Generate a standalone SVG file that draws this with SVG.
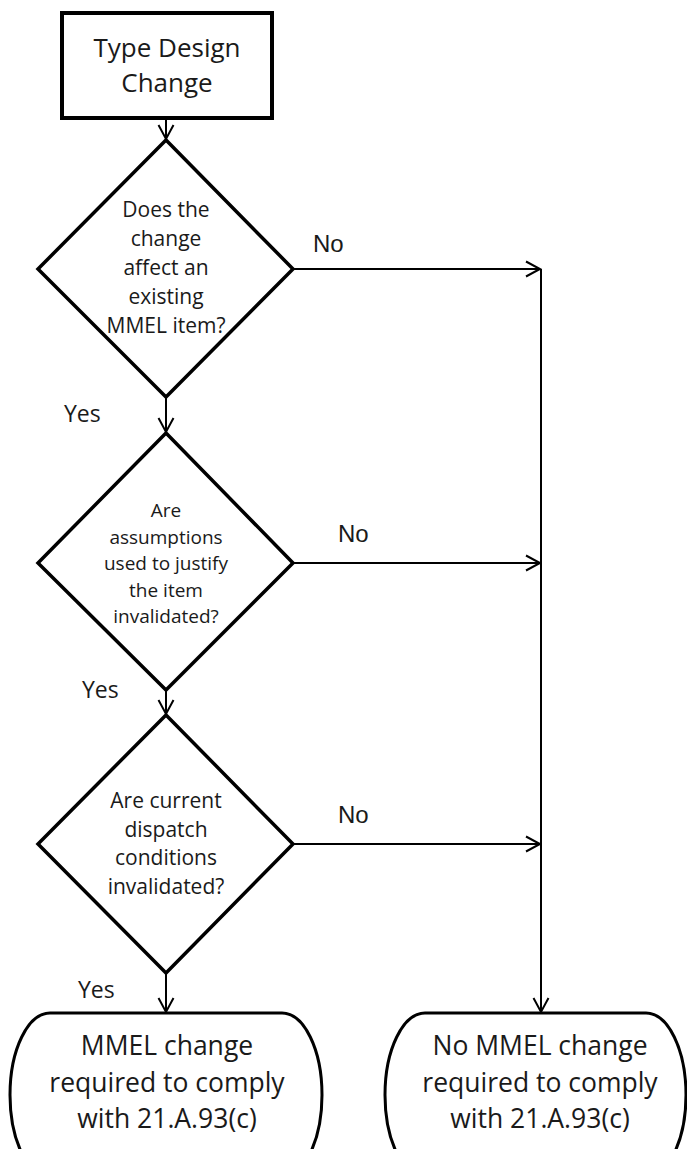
<svg xmlns="http://www.w3.org/2000/svg" width="687" height="1149" viewBox="0 0 687 1149">
<style>
.shape{fill:#fff;stroke:#000;}
.t{font-family:"Open Sans","DejaVu Sans",sans-serif;fill:#1a1a1a;text-anchor:middle;}
.lbl{font-family:"Open Sans","DejaVu Sans",sans-serif;fill:#1a1a1a;font-size:23px;}
.no{font-family:"Liberation Sans",Arial,sans-serif;fill:#1a1a1a;font-size:24px;}
.c{fill:none;stroke:#000;stroke-width:2;}
</style>
<defs>
<marker id="arr" markerUnits="userSpaceOnUse" markerWidth="20" markerHeight="20" viewBox="-16 -10 20 20" refX="0" refY="0" orient="auto">
<path d="M-14,-7.5 L0,0 L-14,7.5" fill="none" stroke="#000" stroke-width="2"/>
</marker>
</defs>
<g id="connectors">
<line class="c" x1="166" y1="118" x2="166" y2="139" marker-end="url(#arr)"/>
<line class="c" x1="166" y1="397" x2="166" y2="432" marker-end="url(#arr)"/>
<line class="c" x1="166" y1="690" x2="166" y2="714" marker-end="url(#arr)"/>
<line class="c" x1="166" y1="973" x2="166" y2="1012" marker-end="url(#arr)"/>
<line class="c" x1="293" y1="269" x2="540" y2="269" marker-end="url(#arr)"/>
<line class="c" x1="293" y1="563" x2="540" y2="563" marker-end="url(#arr)"/>
<line class="c" x1="293" y1="844" x2="540" y2="844" marker-end="url(#arr)"/>
<line class="c" x1="541" y1="269" x2="541" y2="1012" marker-end="url(#arr)"/>
<text class="no" x="313" y="252">No</text>
<text class="no" x="338" y="542">No</text>
<text class="no" x="338" y="823">No</text>
<text class="lbl" x="64" y="422">Yes</text>
<text class="lbl" x="82" y="698">Yes</text>
<text class="lbl" x="78" y="998">Yes</text>
</g>
<g id="start">
<rect class="shape" x="62" y="13" width="210" height="105" stroke-width="4"/>
<text class="t" font-size="26" x="167" y="57">Type Design</text>
<text class="t" font-size="26" x="167" y="92">Change</text>
</g>
<g id="decision1">
<polygon class="shape" points="166,140 293,269 166,397 38,269" stroke-width="3.5"/>
<text class="t" font-size="21" x="166" y="217">Does the</text>
<text class="t" font-size="21" x="166" y="246">change</text>
<text class="t" font-size="21" x="166" y="275">affect an</text>
<text class="t" font-size="21" x="166" y="304">existing</text>
<text class="t" font-size="21" x="166" y="333">MMEL item?</text>
</g>
<g id="decision2">
<polygon class="shape" points="166,433 293,563 166,690 38,563" stroke-width="3.5"/>
<text class="t" font-size="19" x="166" y="517">Are</text>
<text class="t" font-size="19" x="166" y="544">assumptions</text>
<text class="t" font-size="19" x="166" y="570">used to justify</text>
<text class="t" font-size="19" x="166" y="597">the item</text>
<text class="t" font-size="19" x="166" y="623">invalidated?</text>
</g>
<g id="decision3">
<polygon class="shape" points="166,715 293,844 166,973 38,844" stroke-width="3.5"/>
<text class="t" font-size="21" x="166" y="808">Are current</text>
<text class="t" font-size="21" x="166" y="837">dispatch</text>
<text class="t" font-size="21" x="166" y="865">conditions</text>
<text class="t" font-size="21" x="166" y="894">invalidated?</text>
</g>
<g id="end-yes">
<rect class="shape" x="10" y="1013" width="312" height="164" rx="40" ry="82" stroke-width="3"/>
<text class="t" font-size="26.5" x="167" y="1055">MMEL change</text>
<text class="t" font-size="26.5" x="167" y="1092">required to comply</text>
<text class="t" font-size="26.5" x="167" y="1128">with 21.A.93(c)</text>
</g>
<g id="end-no">
<rect class="shape" x="385" y="1013" width="301" height="164" rx="40" ry="82" stroke-width="3"/>
<text class="t" font-size="26.5" x="540" y="1055">No MMEL change</text>
<text class="t" font-size="26.5" x="540" y="1092">required to comply</text>
<text class="t" font-size="26.5" x="540" y="1128">with 21.A.93(c)</text>
</g>
</svg>
